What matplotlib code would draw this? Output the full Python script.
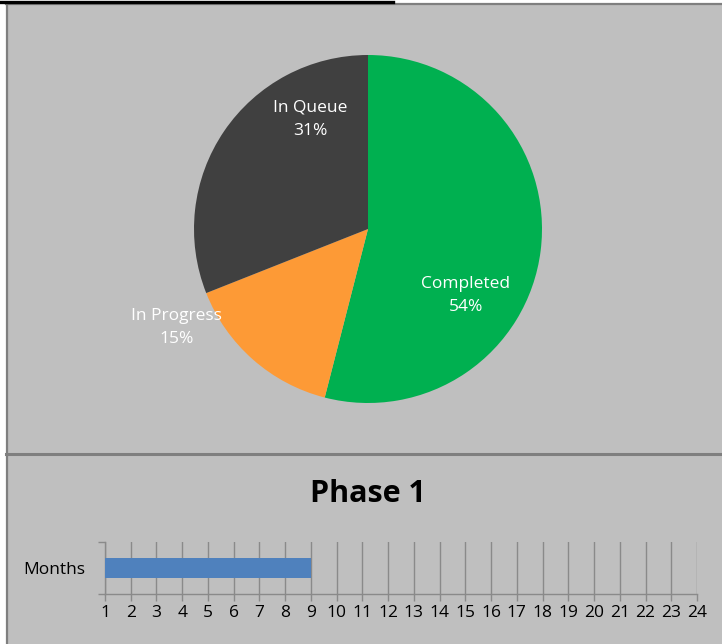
import matplotlib.pyplot as plt
from matplotlib.lines import Line2D

# datos
status_labels = ["Completed", "In Progress", "In Queue"]
status_pct = [54, 15, 31]
phase_name = "Phase 1"
row_label = "Months"
months_done = 9
month_ticks = list(range(1, 25))

# estilo
BG = "#bfbfbf"
BORDER = "#7f7f7f"
GRID = "#8a8a8a"
C_DONE = "#00b050"
C_PROG = "#fd9a36"
C_QUEUE = "#404040"
C_BAR = "#4f81bd"
FONT = "Open Sans"

W, H = 722, 644
fig = plt.figure(figsize=(W / 100, H / 100), dpi=100, facecolor="white")


def px_axes(left, top, right, bottom):
    return fig.add_axes([left / W, 1 - bottom / H, (right - left) / W, (bottom - top) / H])


# fondo gris con bordes
bg = px_axes(6, 3, W, H)
bg.set_facecolor(BG)
bg.set_xticks([])
bg.set_yticks([])
for s in bg.spines.values():
    s.set_visible(False)
fig.add_artist(Line2D([6 / W, 1], [1 - 4 / H, 1 - 4 / H], color=BORDER, lw=1.6))
fig.add_artist(Line2D([7 / W, 7 / W], [0, 1 - 3 / H], color=BORDER, lw=1.6))
fig.add_artist(Line2D([0 / W, 393 / W], [1 - 1.5 / H, 1 - 1.5 / H], color="black", lw=2.4))
fig.add_artist(Line2D([6 / W, 1], [1 - 454 / H, 1 - 454 / H], color=BORDER, lw=2.2))

# ── torta ──
ax_pie = px_axes(194, 55, 542, 403)
ax_pie.set_facecolor("none")
wedges, _ = ax_pie.pie(status_pct, colors=[C_DONE, C_PROG, C_QUEUE],
                       startangle=90, counterclock=False, radius=1,
                       wedgeprops={"linewidth": 0})
ax_pie.set_xlim(-1, 1)
ax_pie.set_ylim(-1, 1)
ax_pie.set_aspect("equal")

label_pos = [(0.563, -0.38), (-1.10, -0.565), (-0.33, 0.63)]
for lab, pct, (x, y) in zip(status_labels, status_pct, label_pos):
    ax_pie.text(x, y, f"{lab}\n{pct}%", ha="center", va="center",
                color="white", fontsize=12.5, family=FONT, linespacing=1.6)

# ── barra (Gantt) ──
fig.text(368 / W, 1 - 494 / H, phase_name, ha="center", va="center",
         fontsize=22, fontweight="bold", family=FONT, color="black")

ax_bar = px_axes(105, 542, 697, 594)
ax_bar.set_facecolor("none")
ax_bar.barh([0], [months_done], height=0.4, color=C_BAR, zorder=3)
ax_bar.set_xlim(1, 24)
ax_bar.set_ylim(-0.5, 0.5)
ax_bar.set_xticks(month_ticks)
ax_bar.set_xticklabels([str(m) for m in month_ticks])
ax_bar.grid(axis="x", color=GRID, linewidth=1, zorder=1)
ax_bar.tick_params(axis="x", direction="out", length=5, width=1, color=GRID,
                   pad=3, labelsize=12.5, labelcolor="black")
ax_bar.set_yticks([0])
ax_bar.set_yticklabels([row_label])
ax_bar.tick_params(axis="y", which="major", length=0, pad=14, labelsize=12.5)
ax_bar.set_yticks([-0.5, 0.5], minor=True)
ax_bar.tick_params(axis="y", which="minor", direction="out", length=5, width=1, color=GRID)
for lab in ax_bar.get_xticklabels() + ax_bar.get_yticklabels():
    lab.set_family(FONT)
for sp in ["top", "right"]:
    ax_bar.spines[sp].set_visible(False)
for sp in ["bottom", "left"]:
    ax_bar.spines[sp].set_color(GRID)
    ax_bar.spines[sp].set_linewidth(1)

fig.savefig("out.png", dpi=100, facecolor=fig.get_facecolor())
